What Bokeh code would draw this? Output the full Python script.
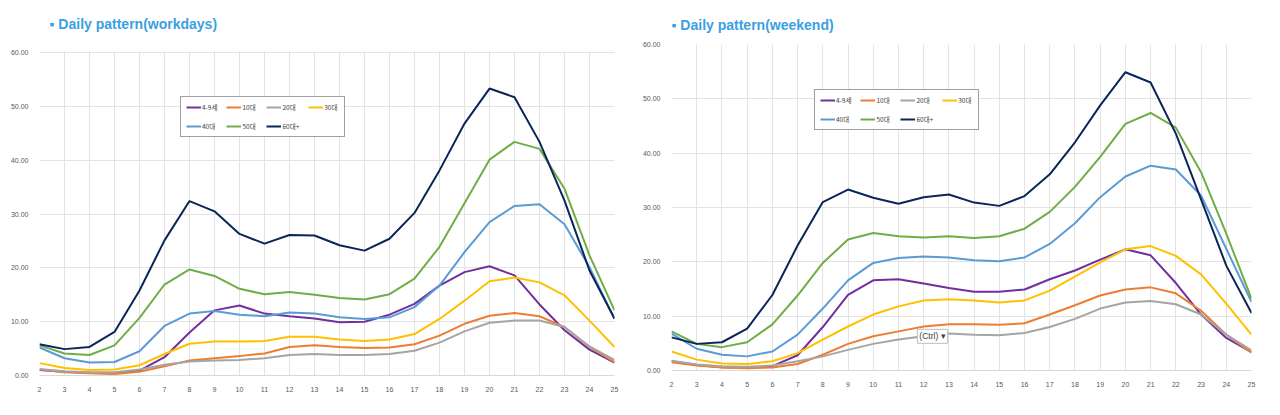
from bokeh.plotting import figure
from bokeh.layouts import row
from bokeh.models import (Legend, LegendItem, FixedTicker, PrintfTickFormatter,
                          Title, Label, BoxAnnotation)
from bokeh.embed import file_html
from bokeh.resources import INLINE

hours = list(range(2, 26))
series_names = ["4-9세", "10대", "20대", "30대", "40대", "50대", "60대+"]
series_colors = ["#7030a0", "#ed7d31", "#a5a5a5", "#ffc000", "#5b9bd5", "#70ad47", "#0b2559"]
y_ticks = [0, 10, 20, 30, 40, 50, 60]

# workdays
age_4_9_wd = [1.0, 0.7, 0.5, 0.4, 0.9, 3.4, 8.0, 12.1, 13.0, 11.5, 11.0, 10.6, 9.9, 10.0, 11.3, 13.3, 16.7, 19.2, 20.3, 18.6, 13.2, 8.4, 4.8, 2.4]
teens_wd = [1.1, 0.6, 0.4, 0.3, 0.7, 1.7, 2.8, 3.2, 3.6, 4.1, 5.3, 5.6, 5.3, 5.1, 5.2, 5.8, 7.4, 9.6, 11.1, 11.6, 11.0, 9.0, 5.3, 2.5]
twenties_wd = [1.2, 0.8, 0.6, 0.6, 1.1, 2.0, 2.6, 2.8, 2.9, 3.2, 3.8, 4.0, 3.8, 3.8, 4.0, 4.6, 6.1, 8.2, 9.8, 10.2, 10.2, 9.0, 5.4, 2.9]
thirties_wd = [2.3, 1.4, 1.0, 1.1, 1.9, 4.0, 5.9, 6.3, 6.3, 6.4, 7.2, 7.2, 6.7, 6.4, 6.7, 7.7, 10.5, 13.9, 17.5, 18.2, 17.3, 14.9, 10.2, 5.3]
forties_wd = [5.2, 3.2, 2.4, 2.5, 4.5, 9.2, 11.5, 12.0, 11.3, 11.0, 11.7, 11.5, 10.8, 10.5, 10.8, 12.7, 16.7, 22.9, 28.5, 31.5, 31.8, 28.1, 20.1, 10.5]
fifties_wd = [5.6, 4.1, 3.8, 5.6, 10.7, 16.9, 19.7, 18.5, 16.1, 15.1, 15.5, 15.0, 14.4, 14.1, 15.1, 18.0, 23.9, 32.0, 40.1, 43.4, 42.1, 34.7, 22.3, 12.1]
sixties_wd = [5.8, 4.9, 5.3, 8.1, 15.8, 25.1, 32.4, 30.5, 26.3, 24.5, 26.1, 26.0, 24.2, 23.2, 25.4, 30.2, 38.1, 46.8, 53.3, 51.7, 43.4, 32.5, 19.5, 10.6]

# weekend
age_4_9_we = [1.7, 1.0, 0.6, 0.5, 0.8, 2.8, 8.0, 13.9, 16.6, 16.8, 16.0, 15.2, 14.5, 14.5, 14.9, 16.8, 18.4, 20.4, 22.3, 21.2, 16.1, 10.3, 6.0, 3.4]
teens_we = [1.5, 0.9, 0.55, 0.4, 0.55, 1.2, 2.9, 4.9, 6.3, 7.2, 8.1, 8.5, 8.5, 8.4, 8.7, 10.3, 12.0, 13.8, 14.9, 15.3, 14.2, 11.0, 6.6, 3.3]
twenties_we = [1.8, 1.1, 0.8, 0.7, 0.9, 1.7, 2.6, 3.8, 4.9, 5.7, 6.3, 6.8, 6.6, 6.5, 6.9, 8.0, 9.5, 11.4, 12.5, 12.8, 12.2, 10.3, 6.6, 3.7]
thirties_we = [3.5, 2.0, 1.3, 1.2, 1.7, 3.2, 5.7, 8.1, 10.3, 11.8, 12.9, 13.1, 12.9, 12.5, 12.9, 14.7, 17.3, 19.9, 22.3, 22.9, 21.1, 17.7, 12.3, 6.6]
forties_we = [6.8, 4.0, 2.9, 2.6, 3.5, 6.6, 11.4, 16.6, 19.8, 20.7, 21.0, 20.8, 20.3, 20.1, 20.8, 23.3, 27.1, 31.9, 35.7, 37.7, 37.0, 32.2, 22.4, 12.6]
fifties_we = [7.2, 4.9, 4.3, 5.2, 8.5, 13.8, 19.8, 24.1, 25.3, 24.7, 24.5, 24.7, 24.4, 24.7, 26.1, 29.2, 33.8, 39.3, 45.4, 47.4, 44.7, 36.5, 25.2, 13.2]
sixties_we = [6.1, 4.9, 5.2, 7.7, 13.9, 23.0, 31.0, 33.3, 31.8, 30.7, 31.9, 32.4, 30.9, 30.3, 32.1, 36.1, 42.0, 48.8, 54.9, 53.0, 43.6, 31.5, 19.3, 10.6]

workdays = [age_4_9_wd, teens_wd, twenties_wd, thirties_wd, forties_wd, fifties_wd, sixties_wd]
weekend = [age_4_9_we, teens_we, twenties_we, thirties_we, forties_we, fifties_we, sixties_we]

TITLE_COLOR = "#3a9fe2"
TICK_COLOR = "#595959"
GRID_COLOR = "#e3e3e3"
Y_MAX = 60


def make_chart(title, data, frame_w, frame_h, y_top, b_left, b_right, b_top, b_bottom,
               title_offset, title_standoff, legend_loc):
    p = figure(frame_width=frame_w, frame_height=frame_h,
               x_range=(2, 25), y_range=(0, y_top),
               output_backend="svg", toolbar_location=None,
               min_border_left=b_left, min_border_right=b_right,
               min_border_top=b_top, min_border_bottom=b_bottom,
               background_fill_color="white", border_fill_color="white")
    p.outline_line_color = None
    p.title = Title(text="▪ " + title, align="left", offset=title_offset,
                    standoff=title_standoff,
                    text_font="Liberation Sans", text_font_style="bold",
                    text_font_size="14px", text_color=TITLE_COLOR)

    p.xaxis.ticker = FixedTicker(ticks=hours)
    p.yaxis.ticker = FixedTicker(ticks=y_ticks)
    p.yaxis.formatter = PrintfTickFormatter(format="%.2f")
    for ax in (p.xaxis, p.yaxis):
        ax.major_tick_line_color = None
        ax.minor_tick_line_color = None
        ax.major_label_text_font = "Liberation Sans"
        ax.major_label_text_font_size = "7px"
        ax.major_label_text_color = TICK_COLOR
    p.yaxis.axis_line_color = None
    p.xaxis.axis_line_color = "#d9d9d9"
    p.yaxis.major_label_standoff = 5
    p.xaxis.major_label_standoff = 5

    p.xgrid.ticker = FixedTicker(ticks=hours)
    p.ygrid.ticker = FixedTicker(ticks=y_ticks)
    p.xgrid.grid_line_color = GRID_COLOR
    p.ygrid.grid_line_color = GRID_COLOR

    if y_top > Y_MAX:
        # blank strip above the top gridline
        p.add_layout(BoxAnnotation(bottom=Y_MAX + (y_top - Y_MAX) * 0.12,
                                   fill_color="white", fill_alpha=1.0,
                                   line_color=None, level="underlay"))

    items = []
    for name, color, vals in zip(series_names, series_colors, data):
        r = p.line(hours, vals, line_color=color, line_width=2)
        items.append(LegendItem(label=name, renderers=[r]))

    legend = Legend(items=items, location=legend_loc, orientation="horizontal",
                    ncols=4, border_line_color="#3f3f3f", border_line_width=1,
                    background_fill_color="white", background_fill_alpha=1,
                    label_text_font="Noto Sans CJK KR", label_text_font_size="6.5px",
                    label_text_color="#404040", glyph_width=15, glyph_height=8,
                    label_standoff=1, spacing=9, padding=5, margin=0,
                    label_height=10, label_width=15)
    p.add_layout(legend, "center")
    return p


left = make_chart("Daily pattern(workdays)", workdays, 575, 331, Y_MAX * (331 / 323),
                  39, 25, 44, 28, 10, 26, (141, 238))
right = make_chart("Daily pattern(weekend)", weekend, 580, 326, Y_MAX,
                   28, 10, 44, 33, 0, 23, (143, 240))

paste = Label(x=11.75, y=5.0, text="(Ctrl) ▾", text_font="Liberation Sans",
              text_font_size="8.5px", text_color="#404040",
              background_fill_color="white", border_line_color="#bfbfbf",
              padding=2)
right.add_layout(paste)

layout = row(left, right)
open("out.html", "w").write(file_html(layout, INLINE))
